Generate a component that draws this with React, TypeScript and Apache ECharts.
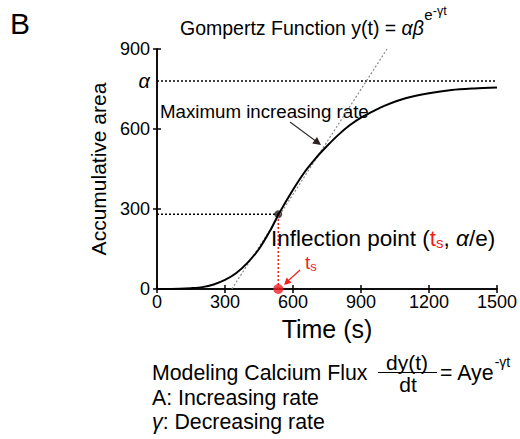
import React, { useEffect, useRef } from 'react';
import * as echarts from 'echarts';

const FONT = '"Liberation Sans", Arial, Helvetica, sans-serif';

// Gompertz curve
const timeS = [0, 100, 150, 200, 250, 300, 350, 400, 450, 500, 535, 600, 650, 700, 750, 800, 850, 900, 950, 1000, 1100, 1200, 1300, 1400, 1500];
const area = [0, 1, 3, 7, 17, 34, 60, 99, 150, 220, 278, 372, 437, 490, 536, 578, 614, 643, 665, 686, 716, 734, 746, 752, 756];

const xTicks = [0, 300, 600, 900, 1200, 1500];
const yTicks = [0, 300, 600, 900];

const alphaValue = 780;
const tsValue = 535;
const inflectionValue = 280;
const tangentT = [330, 1015];
const tangentY = [0, 900];

const RED = '#f01e23';

function measure(text: string, font: string): number {
  const ctx = document.createElement('canvas').getContext('2d');
  if (!ctx) return text.length * 10;
  ctx.font = font;
  return ctx.measureText(text).width;
}

export default function App() {
  const ref = useRef<HTMLDivElement>(null);

  useEffect(() => {
    if (!ref.current) return;
    const chart = echarts.init(ref.current, undefined, { renderer: 'svg' });

    const curve = timeS.map((t, i) => [t, area[i]]);
    const tangent = tangentT.map((t, i) => [t, tangentY[i]]);
    const xMin = xTicks[0];
    const xMax = xTicks[xTicks.length - 1];
    const yMin = yTicks[0];
    const yMax = yTicks[yTicks.length - 1];

    const axisCommon = {
      type: 'value' as const,
      axisLine: { show: true, lineStyle: { color: '#000', width: 1.5 } },
      axisTick: { show: true, inside: true, length: 4, lineStyle: { color: '#000', width: 1.5 } },
      splitLine: { show: false },
    };

    // title pieces
    const titleMainFont = `19.5px ${FONT}`;
    const titleItalFont = `italic 19.5px ${FONT}`;
    const titleMain = 'Gompertz Function y(t) = ';
    const supEFont = `15px ${FONT}`;
    const tx0 = 180;
    const tx1 = tx0 + measure(titleMain, titleMainFont);
    const tx2 = tx1 + measure('αβ', titleItalFont) + 0.5;
    const tx3 = tx2 + measure('e', supEFont);

    // formula pieces
    const fMain = '= Aye';
    const fFont = `21.3px ${FONT}`;
    const fx0 = 440;
    const fx1 = fx0 + measure(fMain, fFont);

    const option: any = {
      animation: false,
      backgroundColor: '#fff',
      textStyle: { fontFamily: FONT },
      grid: { left: 157, top: 49, width: 340, height: 240, show: false },
      xAxis: [
        {
          ...axisCommon,
          position: 'bottom',
          min: xMin,
          max: xMax,
          interval: 300,
          axisLabel: { color: '#000', fontSize: 18, fontFamily: FONT, margin: 4, formatter: (v: number) => String(v) },
          name: 'Time (s)',
          nameLocation: 'middle',
          nameGap: 27,
          nameTextStyle: { color: '#000', fontSize: 25, fontFamily: FONT },
        },
        {
          ...axisCommon,
          position: 'top',
          min: xMin,
          max: xMax,
          interval: 300,
          axisLabel: { show: false },
        },
      ],
      yAxis: [
        {
          ...axisCommon,
          position: 'left',
          min: yMin,
          max: yMax,
          interval: 300,
          axisLabel: {
            color: '#000',
            fontSize: 18,
            fontFamily: FONT,
            margin: 7,
            customValues: [...yTicks, alphaValue],
            formatter: (v: number) => (v === alphaValue ? '{a|α}' : String(v)),
            rich: { a: { fontSize: 20, fontStyle: 'italic', fontFamily: FONT, color: '#000' } },
          },
          name: 'Accumulative area',
          nameLocation: 'middle',
          nameGap: 46,
          nameTextStyle: { color: '#000', fontSize: 21, fontFamily: FONT },
        },
        {
          ...axisCommon,
          position: 'right',
          min: yMin,
          max: yMax,
          interval: 300,
          axisLabel: { show: false },
        },
      ],
      series: [
        {
          type: 'line',
          data: [[xMin, alphaValue], [xMax, alphaValue]],
          showSymbol: false,
          lineStyle: { color: '#000', width: 1.5, type: [2, 2] },
          silent: true,
        },
        {
          type: 'line',
          data: [[xMin, inflectionValue], [tsValue, inflectionValue]],
          showSymbol: false,
          lineStyle: { color: '#000', width: 1.5, type: [2, 2] },
          silent: true,
        },
        {
          type: 'line',
          data: [[tsValue, yMin], [tsValue, inflectionValue]],
          showSymbol: false,
          lineStyle: { color: RED, width: 1.5, type: [2, 2] },
          silent: true,
        },
        {
          type: 'line',
          data: tangent,
          showSymbol: false,
          lineStyle: { color: '#8a8a8a', width: 1.2, type: [2, 2] },
          silent: true,
        },
        {
          type: 'line',
          data: curve,
          smooth: 0.3,
          showSymbol: false,
          lineStyle: { color: '#000', width: 2 },
          silent: true,
        },
        {
          type: 'scatter',
          data: [[tsValue, inflectionValue]],
          symbolSize: 8,
          itemStyle: { color: '#231815' },
          silent: true,
          clip: false,
        },
        {
          type: 'scatter',
          data: [[tsValue, yMin]],
          symbolSize: 10,
          itemStyle: { color: RED },
          silent: true,
          clip: false,
          z: 5,
        },
      ],
      graphic: [
        {
          type: 'text', x: 10, y: 23,
          style: { text: 'B', font: `30px ${FONT}`, fill: '#000', verticalAlign: 'middle' },
        },
        {
          type: 'text', x: tx0, y: 28,
          style: { text: titleMain, font: titleMainFont, fill: '#000', verticalAlign: 'middle' },
        },
        {
          type: 'text', x: tx1, y: 28,
          style: { text: 'αβ', font: titleItalFont, fill: '#000', verticalAlign: 'middle' },
        },
        {
          type: 'text', x: tx2, y: 14,
          style: { text: 'e', font: supEFont, fill: '#000', verticalAlign: 'middle' },
        },
        {
          type: 'text', x: tx3, y: 11,
          style: { text: '-γt', font: `12.5px ${FONT}`, fill: '#000', verticalAlign: 'middle' },
        },
        {
          type: 'text', x: 160, y: 111,
          style: { text: 'Maximum increasing rate', font: `18.7px ${FONT}`, fill: '#000', verticalAlign: 'middle' },
        },
        {
          type: 'line', shape: { x1: 290, y1: 122, x2: 315, y2: 140.5 },
          style: { stroke: '#333', lineWidth: 1.2 },
        },
        {
          type: 'polygon', shape: { points: [[321, 145], [312.2, 143.4], [317, 137]] },
          style: { fill: '#2a2020' },
        },
        {
          type: 'text', x: 271, y: 238,
          style: {
            text: '{n|Inflection point (}{r|t}{rs|s}{n|, }{i|α}{n|/e)}',
            verticalAlign: 'middle',
            rich: {
              n: { fontSize: 22.5, fontFamily: FONT, lineHeight: 24, fill: '#000' },
              r: { fontSize: 22.5, fontFamily: FONT, lineHeight: 24, fill: RED },
              rs: { fontSize: 15, fontFamily: FONT, lineHeight: 18, verticalAlign: 'bottom', fill: RED },
              i: { fontSize: 22.5, fontFamily: FONT, fontStyle: 'italic', lineHeight: 24, fill: '#000' },
            },
          },
        },
        {
          type: 'text', x: 305, y: 262,
          style: {
            text: '{r|t}{rs|s}',
            verticalAlign: 'middle',
            rich: {
              r: { fontSize: 19, fontFamily: FONT, lineHeight: 22, fill: RED },
              rs: { fontSize: 13, fontFamily: FONT, lineHeight: 16, verticalAlign: 'bottom', fill: RED },
            },
          },
        },
        {
          type: 'line', shape: { x1: 300, y1: 270, x2: 289, y2: 280 },
          style: { stroke: RED, lineWidth: 1.2 },
        },
        {
          type: 'polygon', shape: { points: [[284, 285], [286.7, 277.6], [291.5, 282.8]] },
          style: { fill: RED },
        },
        {
          type: 'text', x: 152, y: 373,
          style: { text: 'Modeling Calcium Flux', font: fFont, fill: '#000', verticalAlign: 'middle' },
        },
        {
          type: 'text', x: 407, y: 362,
          style: { text: 'dy(t)', font: `21px ${FONT}`, fill: '#000', align: 'center', verticalAlign: 'middle' },
        },
        {
          type: 'line', shape: { x1: 378, y1: 372.5, x2: 437, y2: 372.5 },
          style: { stroke: '#000', lineWidth: 1.2 },
        },
        {
          type: 'text', x: 408, y: 384,
          style: { text: 'dt', font: `21px ${FONT}`, fill: '#000', align: 'center', verticalAlign: 'middle' },
        },
        {
          type: 'text', x: fx0, y: 373,
          style: { text: fMain, font: fFont, fill: '#000', verticalAlign: 'middle' },
        },
        {
          type: 'text', x: fx1, y: 362,
          style: { text: '-γt', font: `14px ${FONT}`, fill: '#000', verticalAlign: 'middle' },
        },
        {
          type: 'text', x: 152, y: 398,
          style: { text: 'A: Increasing rate', font: fFont, fill: '#000', verticalAlign: 'middle' },
        },
        {
          type: 'text', x: 152, y: 422,
          style: {
            text: '{i|γ}{n|: Decreasing rate}',
            verticalAlign: 'middle',
            rich: {
              n: { fontSize: 21.3, fontFamily: FONT, lineHeight: 24, fill: '#000' },
              i: { fontSize: 21.3, fontFamily: FONT, fontStyle: 'italic', lineHeight: 24, fill: '#000' },
            },
          },
        },
      ],
    };

    chart.setOption(option);
    return () => chart.dispose();
  }, []);

  return (
    <div
      ref={ref}
      style={{ position: 'fixed', left: 0, top: 0, width: 520, height: 439, background: '#fff' }}
    />
  );
}
